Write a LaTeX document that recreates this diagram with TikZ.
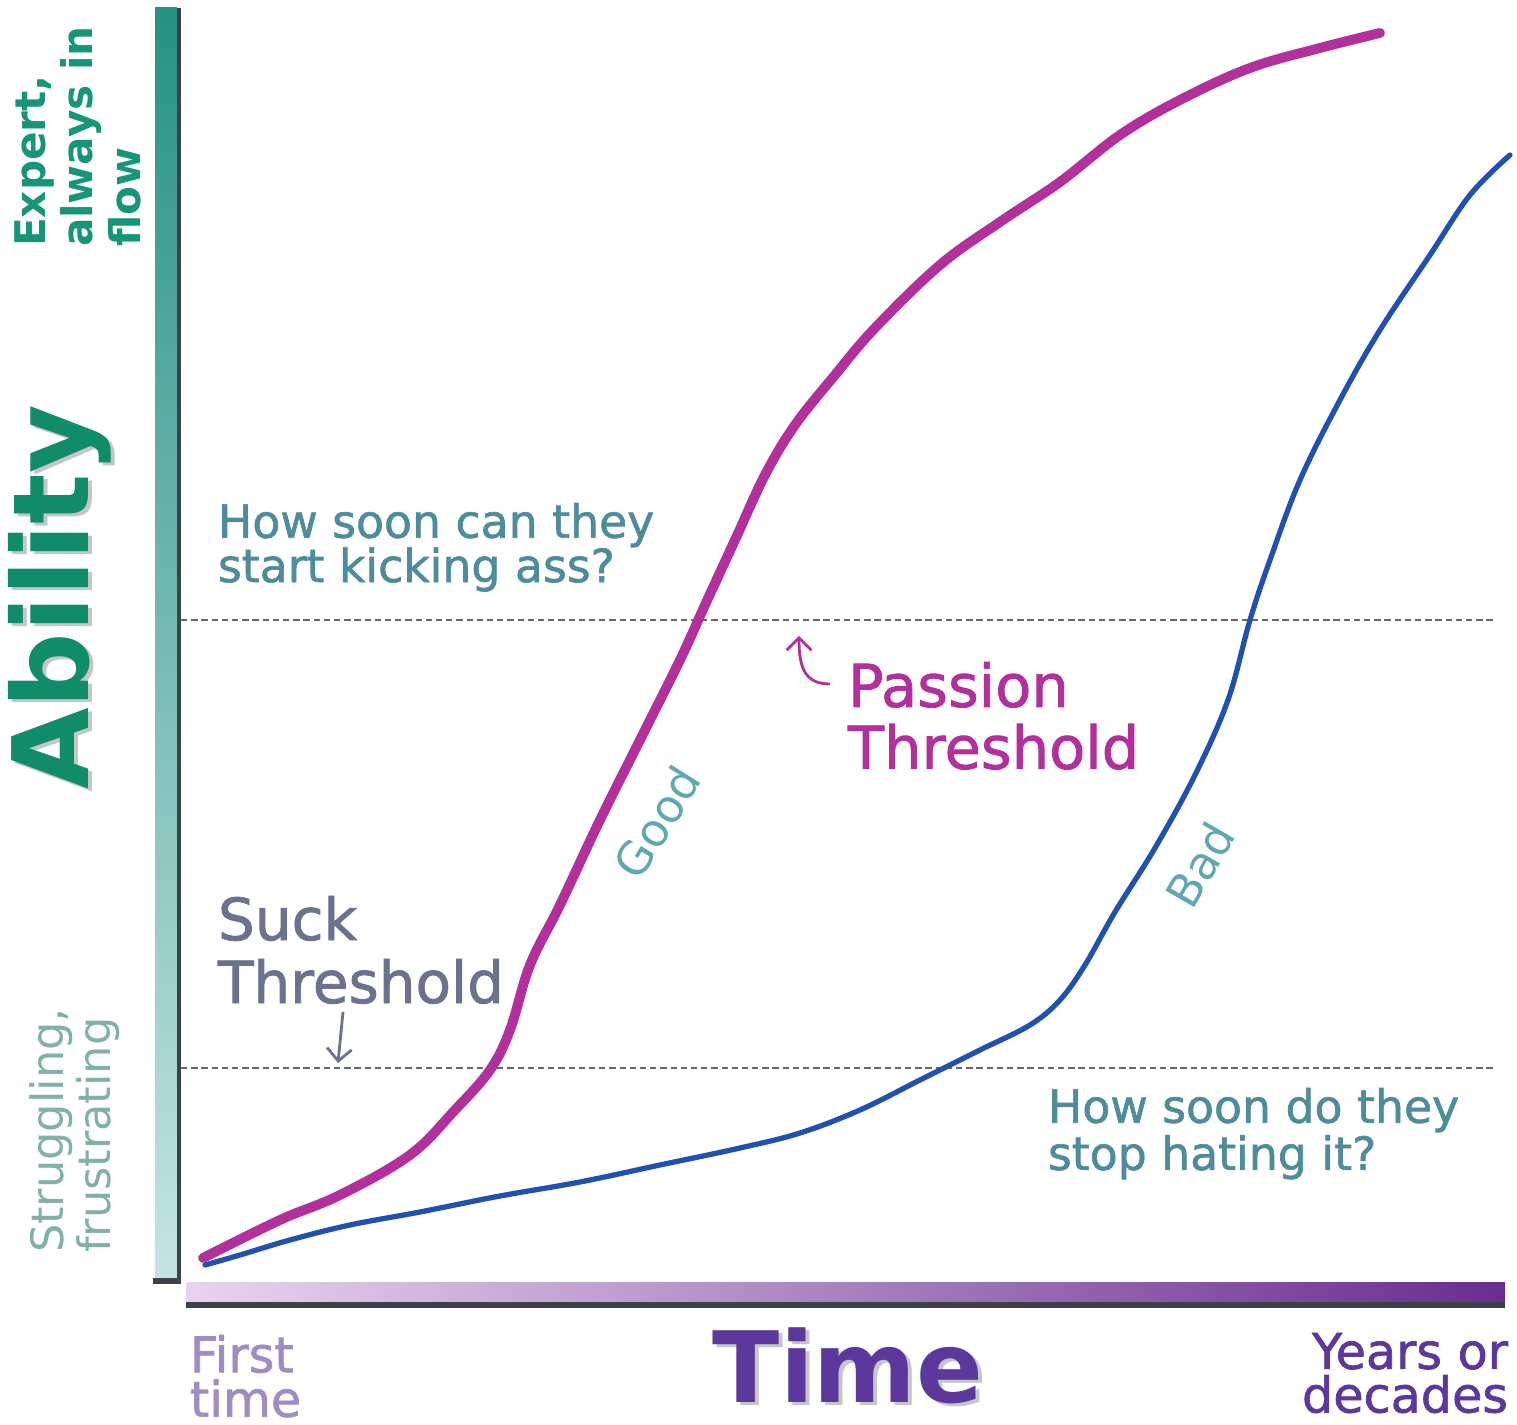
\documentclass[tikz,border=0pt]{standalone}
\usepackage{fontspec}
\setmainfont{DejaVu Sans}
\newfontfamily\midfont{DejaVu Sans}[FakeBold=1.4]
\usetikzlibrary{positioning,arrows.meta}
\definecolor{expertgreen}{RGB}{22,150,118}
\definecolor{abilitygreen}{RGB}{16,140,104}
\definecolor{strugglegray}{RGB}{128,176,166}
\definecolor{questionteal}{RGB}{78,140,156}
\definecolor{passionpink}{RGB}{178,48,156}
\definecolor{suckgray}{RGB}{106,114,142}
\definecolor{curveblue}{RGB}{32,80,176}
\definecolor{timepurple}{RGB}{92,56,156}
\definecolor{firstlilac}{RGB}{160,140,196}
\definecolor{goodteal}{RGB}{96,168,176}
\definecolor{axisteal}{RGB}{38,146,130}
\definecolor{axismid}{RGB}{96,176,168}
\definecolor{axislight}{RGB}{196,228,226}
\definecolor{timelight}{RGB}{232,212,238}
\definecolor{timedark}{RGB}{104,46,144}
\definecolor{barshadow}{RGB}{60,66,72}

\begin{document}
\begin{tikzpicture}[x=0.01cm, y=-0.01cm,
    every node/.style={inner sep=0pt, outer sep=0pt},
    question/.style={align=left, anchor=north west, text=questionteal,
        font=\midfont\fontsize{13}{12.6}\selectfont},
    threshold/.style={align=left, anchor=north west,
        font=\midfont\fontsize{16.8}{17.6}\selectfont},
    sidelabel/.style={align=left, anchor=north west, rotate=90},
    curvelabel/.style={text=goodteal, font=\fontsize{13}{13}\selectfont},
    threshline/.style={barshadow!80, line width=0.6pt, dash pattern=on 1.8pt off 1.1pt},
    pointer/.style={line width=0.8pt, -{Straight Barb[length=3.5pt,width=7pt]}}]
    \useasboundingbox (0,0) rectangle (1517,1425);
    % axes
    \shade[top color=axisteal, middle color=axismid, bottom color=axislight] (155,8) rectangle (177,1280);
    \fill[barshadow] (177,8) rectangle (181,1284);
    \fill[barshadow] (153,1278) rectangle (181,1284);
    \shade[left color=timelight, right color=timedark] (186,1283) rectangle (1505,1302);
    \fill[barshadow] (186,1302) rectangle (1505,1308);
    % thresholds
    \draw[threshline] (181,620) -- (1493,620);
    \draw[threshline] (181,1068) -- (1493,1068);
    % curves
    \draw[passionpink, line width=2.8pt, line cap=round] plot[smooth, tension=0.6] coordinates {
        (203,1258) (280,1220) (340,1195) (410,1155) (455,1110) (490,1070) (510,1030)
        (530,965) (560,905) (600,820) (640,740) (680,660) (705,605) (735,540) (765,475)
        (795,425) (835,375) (875,328) (940,265) (1000,222) (1060,182) (1120,135)
        (1180,100) (1250,68) (1320,48) (1380,33)};
    \draw[curveblue, line width=1.5pt, line cap=round] plot[smooth, tension=0.6] coordinates {
        (205,1265) (240,1255) (290,1240) (350,1225) (420,1212) (500,1196) (580,1182)
        (660,1165) (740,1148) (800,1133) (860,1110) (920,1080) (980,1050) (1030,1025)
        (1060,1000) (1085,965) (1115,912) (1155,848) (1195,775) (1228,700) (1250,620)
        (1270,560) (1300,480) (1340,400) (1380,330) (1430,255) (1470,195) (1510,155)};
    % labels
    \node[sidelabel, text=expertgreen, font=\bfseries\fontsize{12}{13.4}\selectfont]
        (expert) at (15,247) {Expert,\\always in\\flow};
    \node[rotate=90, anchor=base west, text=gray!45, font=\bfseries\fontsize{30}{30}\selectfont]
        (abilityshadow) at (92,793) {Ability};
    \node[rotate=90, anchor=base west, text=abilitygreen, font=\bfseries\fontsize{30}{30}\selectfont]
        (ability) at (88,790) {Ability};
    \node[sidelabel, text=strugglegray, font=\fontsize{12.7}{11.4}\selectfont]
        (struggle) at (30,1253) {Struggling,\\frustrating};
    \node[question] (kick) at (218,503) {How soon can they\\start kicking ass?};
    \node[question, font=\midfont\fontsize{13}{13.4}\selectfont] (hate) at (1048,1088)
        {How soon do they\\stop hating it?};
    \node[threshold, text=passionpink] (passion) at (848,662) {Passion\\Threshold};
    \node[threshold, text=suckgray, font=\midfont\fontsize{16.5}{17.9}\selectfont]
        (suck) at (218,896) {Suck\\Threshold};
    \node[curvelabel, rotate=58] (good) at (657,822) {Good};
    \node[curvelabel, rotate=60] (bad) at (1200,865) {Bad};
    \node[anchor=north west, align=left, text=firstlilac, font=\midfont\fontsize{14}{12.6}\selectfont]
        (first) at (190,1335) {First\\time};
    \node[anchor=north east, align=right, text=timepurple, font=\midfont\fontsize{14}{12.4}\selectfont]
        (years) at (1508,1333) {Years or\\decades};
    \node[anchor=base, text=gray!45, font=\bfseries\fontsize{28}{28}\selectfont] (timeshadow) at (852,1406) {Time};
    \node[anchor=base, text=timepurple, font=\bfseries\fontsize{28}{28}\selectfont] (time) at (848,1403) {Time};
    % pointers
    \coordinate (passiontip) at (799,636);
    \coordinate (sucktip) at (338,1063);
    \draw[pointer, passionpink] ([shift={(-18,22)}]passion.north west)
        .. controls (805,684) and (799,668) .. (passiontip);
    \draw[pointer, suckgray] ([shift={(125,8)}]suck.south west) -- (sucktip);
\end{tikzpicture}
\end{document}
